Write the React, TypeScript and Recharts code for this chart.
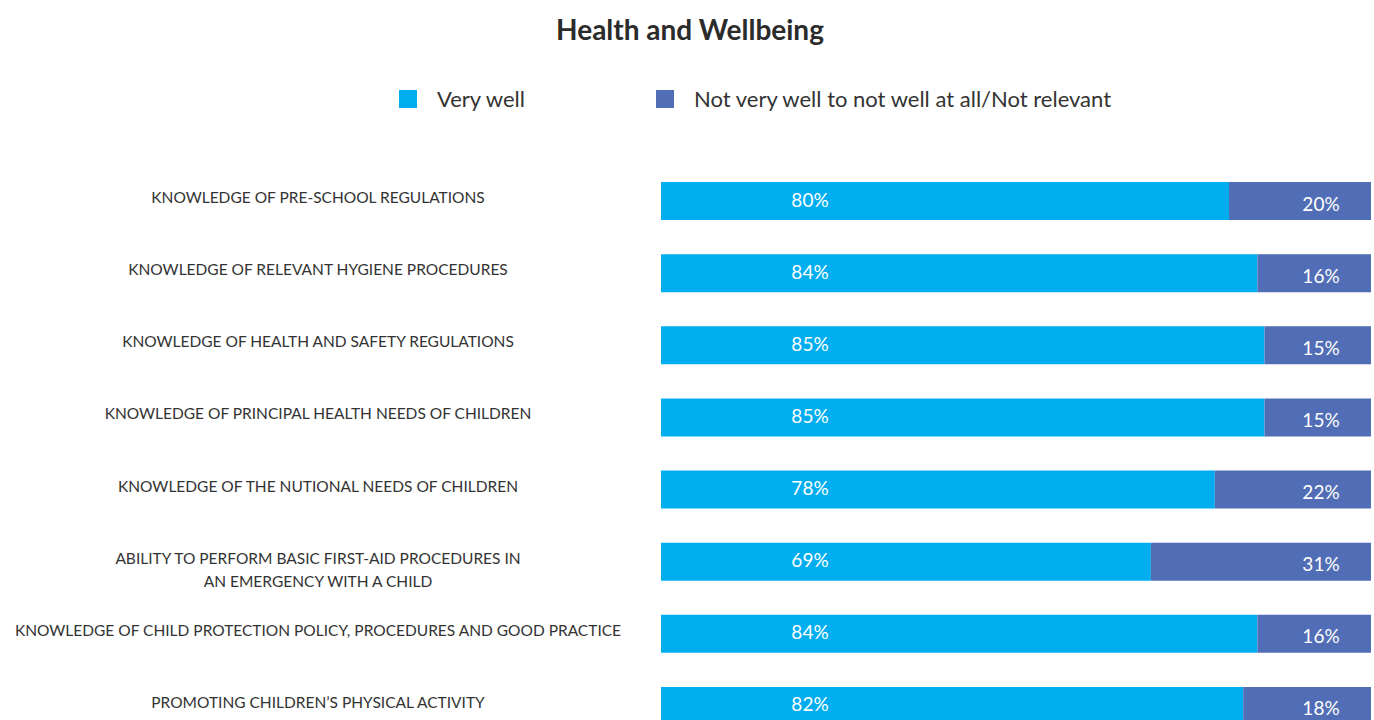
import { BarChart, Bar, XAxis, YAxis, LabelList } from "recharts";

const categories = [
  "KNOWLEDGE OF PRE-SCHOOL REGULATIONS",
  "KNOWLEDGE OF RELEVANT HYGIENE PROCEDURES",
  "KNOWLEDGE OF HEALTH AND SAFETY REGULATIONS",
  "KNOWLEDGE OF PRINCIPAL HEALTH NEEDS OF CHILDREN",
  "KNOWLEDGE OF THE NUTIONAL NEEDS OF CHILDREN",
  "ABILITY TO PERFORM BASIC FIRST-AID PROCEDURES IN\nAN EMERGENCY WITH A CHILD",
  "KNOWLEDGE OF CHILD PROTECTION POLICY, PROCEDURES AND GOOD PRACTICE",
  "PROMOTING CHILDREN\u2019S PHYSICAL ACTIVITY",
];
const veryWell = [80, 84, 85, 85, 78, 69, 84, 82];
const notWell = [20, 16, 15, 15, 22, 31, 16, 18];

const CYAN = "#00AEEF";
const BLUE = "#516DB5";
const FONT = "Lato, 'Open Sans', sans-serif";

const data = categories.map((name, i) => ({
  name,
  veryWell: veryWell[i],
  notWell: notWell[i],
}));

function CategoryTick(props: any) {
  const { x, y, payload } = props;
  const lines = String(payload.value).split("\n");
  return (
    <text
      x={x - 335}
      y={y + 2}
      textAnchor="middle"
      fill="#333"
      fontSize={15.5}
      fontFamily={FONT}
    >
      {lines.map((l, i) => (
        <tspan key={i} x={x - 335} dy={i === 0 ? 0 : 23}>
          {l}
        </tspan>
      ))}
    </text>
  );
}

function LeftLabel(props: any) {
  const { x, y, height, value } = props;
  return (
    <text
      x={x + 149}
      y={y + height / 2 - 2}
      textAnchor="middle"
      dominantBaseline="central"
      fill="#fff"
      fontSize={19}
      fontFamily={FONT}
    >
      {value}%
    </text>
  );
}

function RightLabel(props: any) {
  const { x, y, width, height, value } = props;
  return (
    <text
      x={x + width - 50}
      y={y + height / 2 + 2}
      textAnchor="middle"
      dominantBaseline="central"
      fill="#fff"
      fontSize={19}
      fontFamily={FONT}
    >
      {value}%
    </text>
  );
}

function LegendItem({ color, label }: { color: string; label: string }) {
  return (
    <div style={{ display: "flex", alignItems: "center" }}>
      <div style={{ width: 18, height: 18, background: color, marginRight: 20 }} />
      <span style={{ fontSize: 22, color: "#333", fontFamily: FONT }}>{label}</span>
    </div>
  );
}

export default function App() {
  return (
    <div
      style={{
        position: "absolute",
        left: 0,
        top: 0,
        width: 1374,
        height: 720,
        overflow: "hidden",
        background: "#fff",
        fontFamily: FONT,
      }}
    >
      <div
        style={{
          position: "absolute",
          top: 12,
          left: 0,
          width: 1380,
          textAlign: "center",
          fontSize: 28,
          fontWeight: 700,
          color: "#2b2b2b",
        }}
      >
        Health and Wellbeing
      </div>
      <div style={{ position: "absolute", top: 85, left: 399 }}>
        <LegendItem color={CYAN} label="Very well" />
      </div>
      <div style={{ position: "absolute", top: 85, left: 656 }}>
        <LegendItem color={BLUE} label="Not very well to not well at all/Not relevant" />
      </div>
      <div style={{ position: "absolute", top: 0, left: 0 }}>
        <BarChart
          width={1374}
          height={760}
          data={data}
          layout="vertical"
          margin={{ top: 165, right: 3, bottom: 18, left: 0 }}
        >
          <XAxis type="number" domain={[0, 100]} hide />
          <YAxis
            type="category"
            dataKey="name"
            width={661}
            axisLine={false}
            tickLine={false}
            interval={0}
            tick={<CategoryTick />}
          />
          <Bar dataKey="veryWell" stackId="a" fill={CYAN} barSize={38} isAnimationActive={false}>
            <LabelList dataKey="veryWell" content={<LeftLabel />} />
          </Bar>
          <Bar dataKey="notWell" stackId="a" fill={BLUE} barSize={38} isAnimationActive={false}>
            <LabelList dataKey="notWell" content={<RightLabel />} />
          </Bar>
        </BarChart>
      </div>
    </div>
  );
}
